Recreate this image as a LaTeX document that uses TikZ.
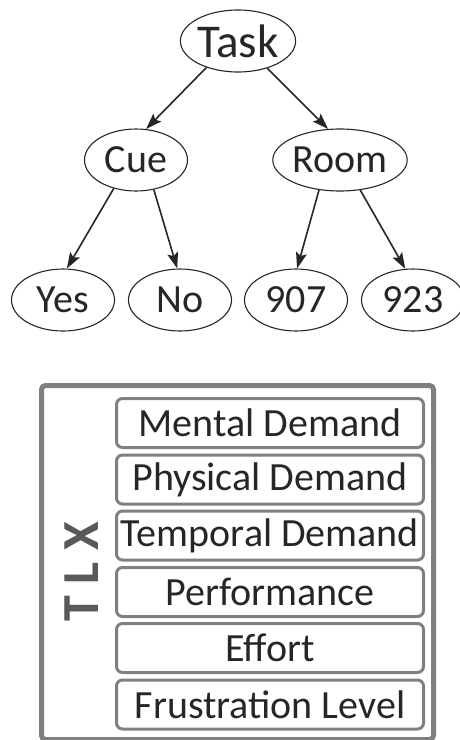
\documentclass[tikz,border=0pt]{standalone}
\usepackage{fontspec}
\setmainfont{Carlito}
\usetikzlibrary{shapes.geometric,arrows.meta}
\definecolor{inkdark}{HTML}{262626}
\definecolor{framegray}{HTML}{808080}
\definecolor{labelgray}{HTML}{595959}
\tikzset{
  treenode/.style={ellipse, draw=inkdark, line width=1.1pt, inner sep=0pt,
    minimum width=103pt, minimum height=62pt, text=inkdark,
    font=\fontsize{40}{40}\selectfont},
  edge/.style={draw=inkdark, line width=1.6pt,
    -{Stealth[length=16pt,width=11pt,inset=3pt]}},
  itembox/.style={rectangle, draw=framegray, line width=3pt, rounded corners=6pt,
    minimum width=307pt, minimum height=49pt, inner sep=0pt, text=inkdark,
    font=\fontsize{40}{40}\selectfont},
}
\begin{document}
\begin{tikzpicture}[x=1pt, y=-1pt]
  \useasboundingbox (0,0) rectangle (460,740);

  % decision tree
  \node[treenode, font=\fontsize{47}{47}\selectfont] (task) at (238,41) {Task};
  \node[treenode] (cue)  at (136,160) {Cue};
  \node[treenode] (room) at (340,160) {Room};
  \node[treenode] (yes)  at (63,300)  {Yes};
  \node[treenode] (no)   at (180,300) {No};
  \node[treenode] (r907) at (296,300) {907};
  \node[treenode] (r923) at (413,300) {923};

  \draw[edge] (task.220) -- (cue.72);
  \draw[edge] (task.317) -- (room.111);
  \draw[edge] (cue.232)  -- (yes.83);
  \draw[edge] (cue.301)  -- (no.95);
  \draw[edge] (room.235) -- (r907.88);
  \draw[edge] (room.304) -- (r923.104);

  % TLX frame, its lower edge running along the page's bottom
  \node[draw=framegray, line width=5pt, rounded corners=4pt, inner sep=0pt,
        minimum width=392pt, minimum height=354pt] (frame) at (237.5,562.5) {};
  \node[rotate=90, text=labelgray, font=\fontsize{52}{52}\selectfont\bfseries]
        (tlx) at (82,572) {T L X};

  \node[itembox] (mental)  at (270,423)   {Mental Demand};
  \node[itembox] (phys)    at (270,479.5) {Physical Demand};
  \node[itembox] (temp)    at (270,535.5) {Temporal Demand};
  \node[itembox] (perf)    at (270,592)   {Performance};
  \node[itembox] (effort)  at (270,648)   {Effort};
  \node[itembox] (frust)   at (270,704.5) {Frustration Level};
\end{tikzpicture}
\end{document}
